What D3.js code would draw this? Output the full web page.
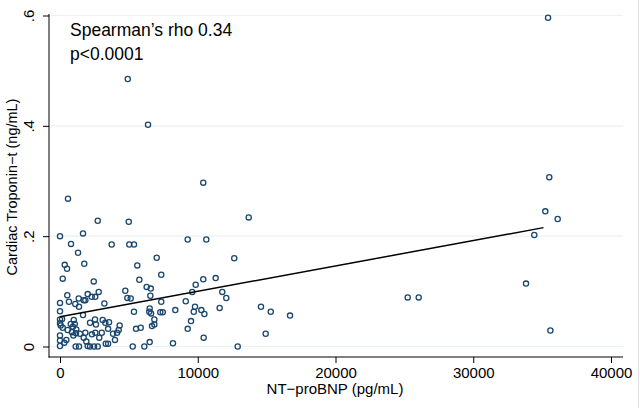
<!DOCTYPE html>
<html>
<head>
<meta charset="utf-8">
<script src="https://cdn.jsdelivr.net/npm/d3@7"></script>
<style>
  html, body { margin: 0; padding: 0; background: #fff; }
  svg { display: block; font-family: "Liberation Sans", Arial, sans-serif; }
</style>
</head>
<body>
<svg id="chart" width="640" height="408"></svg>
<script>
// NT-proBNP (pg/mL)
const ntprobnp = [10400,580,2740,4990,0,1670,9270,10620,800,3750,5030,5370,1310,12650,7020,340,1760,510,5610,7350,
  200,5760,10400,11300,2450,9850,6290,6590,4740,2810,9600,11780,2010,2300,2560,530,4890,5130,6560,12070,
  1360,1720,1840,0,650,3220,7350,9130,1110,1380,9800,11590,6510,0,5370,6480,7280,7460,8370,9710,
  10260,10480,1670,6610,0,150,1000,2540,3100,6850,9510,0,780,1070,2180,3290,3560,50,940,2610,
  4330,6680,6850,200,560,1180,3490,4260,5520,5860,9270,870,1160,1450,1840,2320,2560,3030,3850,4140,
  0,970,1720,2850,3990,10430,0,460,1910,310,6510,8200,0,1140,1380,2010,2180,2470,2740,3320,
  3490,5280,6120,12900,13700,14590,15300,16700,14930,35430,35520,35230,36130,34430,33830,25240,26040,35600,4920,6390];
// Cardiac Troponin-t (ng/mL)
const troponin = [0.297,0.268,0.228,0.226,0.200,0.205,0.194,0.194,0.186,0.185,0.185,0.185,0.170,0.160,0.161,0.148,0.150,0.141,0.147,0.130,
  0.123,0.121,0.122,0.124,0.118,0.112,0.108,0.105,0.101,0.099,0.099,0.099,0.095,0.090,0.090,0.093,0.088,0.087,0.092,0.088,
  0.087,0.084,0.084,0.079,0.081,0.078,0.081,0.082,0.077,0.072,0.072,0.070,0.069,0.064,0.063,0.063,0.062,0.062,0.066,0.063,
  0.066,0.059,0.057,0.060,0.049,0.050,0.048,0.049,0.048,0.049,0.046,0.042,0.041,0.041,0.043,0.043,0.044,0.038,0.036,0.040,
  0.038,0.037,0.040,0.034,0.030,0.031,0.032,0.030,0.032,0.034,0.032,0.026,0.024,0.023,0.025,0.022,0.025,0.025,0.023,0.025,
  0.020,0.020,0.016,0.016,0.012,0.016,0.011,0.012,0.009,0.007,0.008,0.006,0.001,0,0,0.001,0,0,0,0.005,
  0.005,0,0,0,0.234,0.072,0.063,0.056,0.023,0.596,0.307,0.245,0.231,0.202,0.114,0.089,0.089,0.029,0.485,0.402];
// linear fit endpoints
const fitX = [0, 35100];
const fitY = [0.054, 0.2155];
// axes
const xTicks = [0, 10000, 20000, 30000, 40000];
const yTicks = [0, 0.2, 0.4, 0.6];
const yTickLabels = ["0", ".2", ".4", ".6"];
const xTitle = "NT\u2212proBNP (pg/mL)";
const yTitle = "Cardiac Troponin\u2212t (ng/mL)";
const notes = ["Spearman\u2019s rho 0.34", "p<0.0001"];

const svg = d3.select("#chart");
const plotL = 49, plotR = 623, plotT = 14, plotB = 357;
const x = d3.scaleLinear().domain([0, 40000]).range([60, 611]);
const y = d3.scaleLinear().domain([0, 0.6]).range([346.5, 15.5]);
const navy = "#1a476f";

// right edge faint line
svg.append("line").attr("x1", 638.5).attr("x2", 638.5).attr("y1", 0).attr("y2", 408)
  .attr("stroke", "#e2e2e2").attr("stroke-width", 1);

// gridlines
svg.append("g").selectAll("line").data(yTicks).join("line")
  .attr("x1", plotL).attr("x2", plotR)
  .attr("y1", d => y(d)).attr("y2", d => y(d))
  .attr("stroke", "#eaf2f3").attr("stroke-width", 1.2);

// points
svg.append("g").selectAll("circle").data(ntprobnp.map((v, i) => [v, troponin[i]])).join("circle")
  .attr("cx", d => x(d[0])).attr("cy", d => y(d[1])).attr("r", 2.6)
  .attr("fill", "none").attr("stroke", navy).attr("stroke-width", 1.3);

// fit line
svg.append("path")
  .attr("d", d3.line().x(d => x(d[0])).y(d => y(d[1]))(fitX.map((v, i) => [v, fitY[i]])))
  .attr("fill", "none").attr("stroke", "#000").attr("stroke-width", 1.5);

// axis lines
svg.append("line").attr("x1", plotL).attr("x2", plotL).attr("y1", plotT).attr("y2", plotB + 0.5)
  .attr("stroke", "#000").attr("stroke-width", 1);
svg.append("line").attr("x1", plotL - 0.5).attr("x2", plotR).attr("y1", plotB).attr("y2", plotB)
  .attr("stroke", "#000").attr("stroke-width", 1);

// x axis
const gx = svg.append("g").attr("transform", `translate(0,${plotB})`)
  .call(d3.axisBottom(x).tickValues(xTicks).tickSize(6).tickSizeOuter(0).tickFormat(d3.format("d")));
gx.select(".domain").remove();
gx.selectAll(".tick line").attr("stroke", "#000");
gx.selectAll(".tick text").attr("y", 20.5).attr("dy", 0)
  .attr("font-size", 15).attr("font-family", "Liberation Sans, Arial, sans-serif").attr("fill", "#000");

// y axis
const gy = svg.append("g").attr("transform", `translate(${plotL},0)`)
  .call(d3.axisLeft(y).tickValues(yTicks).tickSize(6).tickSizeOuter(0)
    .tickFormat((d, i) => yTickLabels[i]));
gy.select(".domain").remove();
gy.selectAll(".tick line").attr("stroke", "#000");
gy.selectAll(".tick text").attr("x", 0).attr("y", -15.5).attr("dy", 0)
  .attr("transform", "rotate(-90)").attr("text-anchor", "middle")
  .attr("font-size", 15).attr("font-family", "Liberation Sans, Arial, sans-serif").attr("fill", "#000");

// titles
svg.append("text").attr("x", 335).attr("y", 394).attr("text-anchor", "middle")
  .attr("font-size", 15).attr("fill", "#000").text(xTitle);
svg.append("text").attr("transform", "translate(17,187) rotate(-90)").attr("text-anchor", "middle")
  .attr("font-size", 14.5).attr("fill", "#000").text(yTitle);

// annotations
svg.append("g").selectAll("text").data(notes).join("text")
  .attr("x", 70).attr("y", (d, i) => 36 + i * 23.5)
  .attr("font-size", 17.5).attr("fill", "#000").text(d => d);
</script>
</body>
</html>
